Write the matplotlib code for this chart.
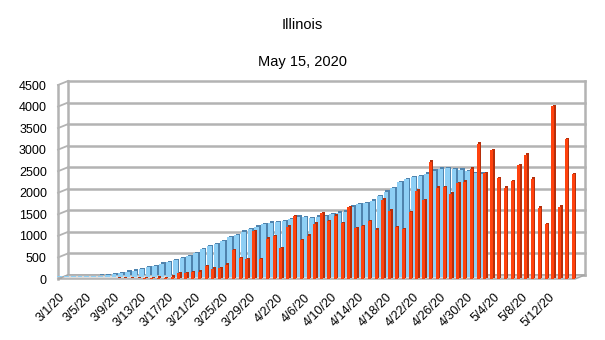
import pandas as pd
import matplotlib.pyplot as plt
import matplotlib.transforms as mtransforms
from matplotlib.patches import Polygon

plt.rcParams['font.family'] = ['Liberation Sans', 'DejaVu Sans']

# daily new cases, 3/1/20 .. 5/15/20
dates = pd.date_range('2020-03-01', '2020-05-15')
new_cases = [
    0, 1, 0, 0, 1, 1, 0, 1, 4, 8, 6, 7, 14, 18, 29, 12, 55, 128, 134, 163,
    168, 296, 236, 250, 330, 673, 488, 465, 1105, 461, 937,
    986, 715, 1209, 1453, 899, 1006, 1287, 1529, 1344, 1465, 1293, 1672, 1173, 1222,
    1346, 1140, 1842, 1585, 1197, 1151, 1551, 2049, 1826, 2724, 2119, 2126, 1980,
    2219, 2253, 2563,
    3137, 2450, 2994, 2341, 2122, 2270, 2641, 2887, 2325, 1656, 1266, 4014, 1677,
    3239, 2432,
]
# back row series, 3/1/20 .. 5/2/20
trend = [
    3, 4, 5, 6, 10, 16, 23, 40, 60, 85, 115, 140, 180, 218, 250, 297, 336, 376,
    435, 470, 548, 635, 705, 752, 823, 910, 964, 1042, 1098, 1160, 1216, 1250,
    1260, 1290, 1334, 1388, 1373, 1350, 1388, 1404, 1451, 1482, 1505, 1622, 1677,
    1700, 1760, 1872, 1973, 2051, 2184, 2262, 2301, 2324, 2387, 2457, 2504, 2520,
    2496, 2480, 2441, 2403, 2390,
]
labels = [f"{d.month}/{d.day}/20" for d in dates]
yticks = list(range(0, 4501, 500))

W, H = 605, 340
fig = plt.figure(figsize=(W / 100, H / 100), dpi=100)
ax = fig.add_axes([58 / W, 1 - 279 / H, 517 / W, 194 / H])
x0, x1 = -0.775, 75.25
ax.set_xlim(x0, x1)
ax.set_ylim(0, 4500)
for s in ax.spines.values():
    s.set_visible(False)

# depth of the 3d box in data units
sx = 517 / (x1 - x0)
sy = 194 / 4500
dx = 10 / sx
dy = 4 / sy
grid_c = '#b3b3b3'

# floor
floor = Polygon([(x0, 0), (x1, 0), (x1 + dx, dy), (x0 + dx, dy)],
                closed=True, facecolor='#dcdcdc', edgecolor='#a6a6a6',
                lw=1, clip_on=False, zorder=1)
ax.add_patch(floor)

# back wall grid and left wall
for v in yticks:
    ax.plot([x0 + dx, x1 + dx], [v + dy, v + dy], color=grid_c, lw=1.8,
            clip_on=False, zorder=0.5)
    ax.plot([x0, x0 + dx], [v, v + dy], color=grid_c, lw=1.3,
            clip_on=False, zorder=0.5)
ax.plot([x0, x0], [0, 4500], color=grid_c, lw=1.8, clip_on=False, zorder=0.6)
ax.plot([x0 + dx, x0 + dx], [dy, 4500 + dy], color=grid_c, lw=1.8,
        clip_on=False, zorder=0.6)
ax.plot([x1 + dx, x1 + dx], [dy, 4500 + dy], color=grid_c, lw=1.8,
        clip_on=False, zorder=0.6)


def shifted(px, py):
    return ax.transData + mtransforms.ScaledTranslation(px / 100, py / 100, fig.dpi_scale_trans)


# back row (light blue)
bx = [i - 0.55 for i in range(len(trend))]
base = dy * 0.6
ax.bar(bx, trend, width=0.7, bottom=base, color='#4f83ad',
       transform=shifted(1.6, 1.3), clip_on=False, zorder=2)
ax.bar(bx, trend, width=0.7, bottom=base, color='#8ecff5',
       clip_on=False, zorder=3)

# front row (orange-red)
rx = list(range(len(new_cases)))
ax.bar(rx, new_cases, width=0.45, color='#b52f0b',
       transform=shifted(1.4, 1.4), clip_on=False, zorder=4)
ax.bar(rx, new_cases, width=0.45, color='#ff420e', clip_on=False, zorder=5)

ax.set_yticks(yticks)
ax.set_yticklabels([str(v) for v in yticks], fontsize=9)
ax.set_xticks(rx[::4])
ax.set_xticklabels(labels[::4], fontsize=9, rotation=45, ha='right',
                   va='center', rotation_mode='anchor')
ax.tick_params(axis='y', length=0, pad=8)
ax.tick_params(axis='x', length=0, pad=12)

fig.text(0.5, 1 - 25 / H, 'Illinois', ha='center', va='center', fontsize=10.5)
fig.text(0.5, 1 - 62 / H, 'May 15, 2020', ha='center', va='center', fontsize=10.5)

fig.savefig('out.png', dpi=100)
